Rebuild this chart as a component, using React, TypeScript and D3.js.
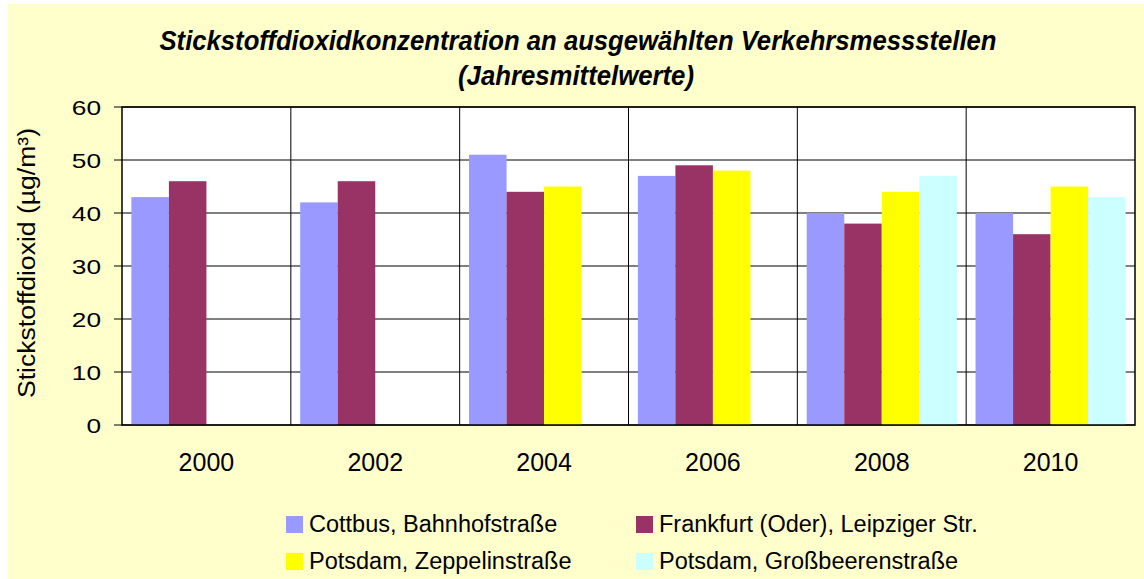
import React from "react";
import * as d3 from "d3";

const years = ["2000", "2002", "2004", "2006", "2008", "2010"];
const seriesNames = [
  "Cottbus, Bahnhofstraße",
  "Frankfurt (Oder), Leipziger Str.",
  "Potsdam, Zeppelinstraße",
  "Potsdam, Großbeerenstraße",
];
const cottbus = [43, 42, 51, 47, 40, 40];
const frankfurt = [46, 46, 44, 49, 38, 36];
const zeppelin = [null, null, 45, 48, 44, 45];
const grossbeeren = [null, null, null, null, 47, 43];
const seriesValues = [cottbus, frankfurt, zeppelin, grossbeeren];
const colors = ["#9999FF", "#993366", "#FFFF00", "#CCFFFF"];
const yTicks = [0, 10, 20, 30, 40, 50, 60];

const W = 1144;
const H = 579;
const plot = { left: 122, top: 107, right: 1135, bottom: 425 };
const font = "'Liberation Sans', Arial, sans-serif";

export default function App() {
  const x0 = d3.scaleBand<string>().domain(years).range([plot.left, plot.right]).padding(0);
  const catW = x0.bandwidth();
  const off = catW / 18;
  const x1 = d3
    .scaleBand<string>()
    .domain(seriesNames)
    .range([off, catW - off])
    .padding(0);
  const y = d3.scaleLinear().domain([0, 60]).range([plot.bottom, plot.top]);

  return (
    <svg
      width={W}
      height={H}
      style={{ position: "absolute", left: 0, top: 0 }}
      fontFamily={font}
    >
      <rect x={0} y={0} width={W} height={H} fill="#ffffff" />
      <rect x={8} y={4} width={W - 8} height={H - 4} fill="#FFFFCC" />
      <text
        x={578}
        y={50}
        textAnchor="middle"
        fontSize={27}
        fontWeight="bold"
        fontStyle="italic"
        fill="#000"
        textLength={837}
        lengthAdjust="spacingAndGlyphs"
      >
        Stickstoffdioxidkonzentration an ausgewählten Verkehrsmessstellen
      </text>
      <text
        x={576}
        y={85}
        textAnchor="middle"
        fontSize={27}
        fontWeight="bold"
        fontStyle="italic"
        fill="#000"
        textLength={236}
        lengthAdjust="spacingAndGlyphs"
      >
        (Jahresmittelwerte)
      </text>

      <rect
        x={plot.left}
        y={plot.top}
        width={plot.right - plot.left}
        height={plot.bottom - plot.top}
        fill="#ffffff"
      />
      {yTicks.map((t) => (
        <line
          key={"h" + t}
          x1={plot.left}
          x2={plot.right}
          y1={y(t)}
          y2={y(t)}
          stroke="#000"
          strokeWidth={1}
        />
      ))}
      {years.slice(1).map((yr) => (
        <line
          key={"v" + yr}
          x1={x0(yr)!}
          x2={x0(yr)!}
          y1={plot.top}
          y2={plot.bottom}
          stroke="#000"
          strokeWidth={1}
        />
      ))}

      {years.map((yr, i) => (
        <g key={yr} transform={`translate(${x0(yr)},0)`}>
          {seriesNames.map((s, j) => {
            const v = seriesValues[j][i];
            if (v == null) return null;
            return (
              <rect
                key={s}
                x={x1(s)!}
                y={y(v)}
                width={x1.bandwidth()}
                height={y(0) - y(v)}
                fill={colors[j]}
              />
            );
          })}
        </g>
      ))}

      <rect
        x={plot.left}
        y={plot.top}
        width={plot.right - plot.left}
        height={plot.bottom - plot.top}
        fill="none"
        stroke="#000"
        strokeWidth={1.5}
      />

      {yTicks.map((t) => (
        <g key={"yt" + t}>
          <line x1={114} x2={plot.left} y1={y(t)} y2={y(t)} stroke="#000" strokeWidth={1} />
          <text
            transform={`translate(101,${y(t) + 7.5}) scale(1.25,1)`}
            textAnchor="end"
            fontSize={21}
            fill="#000"
          >
            {t}
          </text>
        </g>
      ))}
      <text
        transform={`translate(35,${263}) rotate(-90)`}
        textAnchor="middle"
        fontSize={23.5}
        fill="#000"
        textLength={270}
        lengthAdjust="spacingAndGlyphs"
      >
        Stickstoffdioxid (µg/m³)
      </text>

      {years.map((yr) => (
        <text
          key={"xl" + yr}
          x={x0(yr)! + catW / 2}
          y={471}
          textAnchor="middle"
          fontSize={25}
          fill="#000"
        >
          {yr}
        </text>
      ))}

      {seriesNames.map((s, j) => {
        const lx = j % 2 === 0 ? 286 : 636;
        const ly = j < 2 ? 516 : 553;
        return (
          <g key={"lg" + s}>
            <rect x={lx} y={ly} width={17} height={17} fill={colors[j]} />
            <text x={lx + 23} y={ly + 16} fontSize={23.5} fill="#000">
              {s}
            </text>
          </g>
        );
      })}
    </svg>
  );
}
